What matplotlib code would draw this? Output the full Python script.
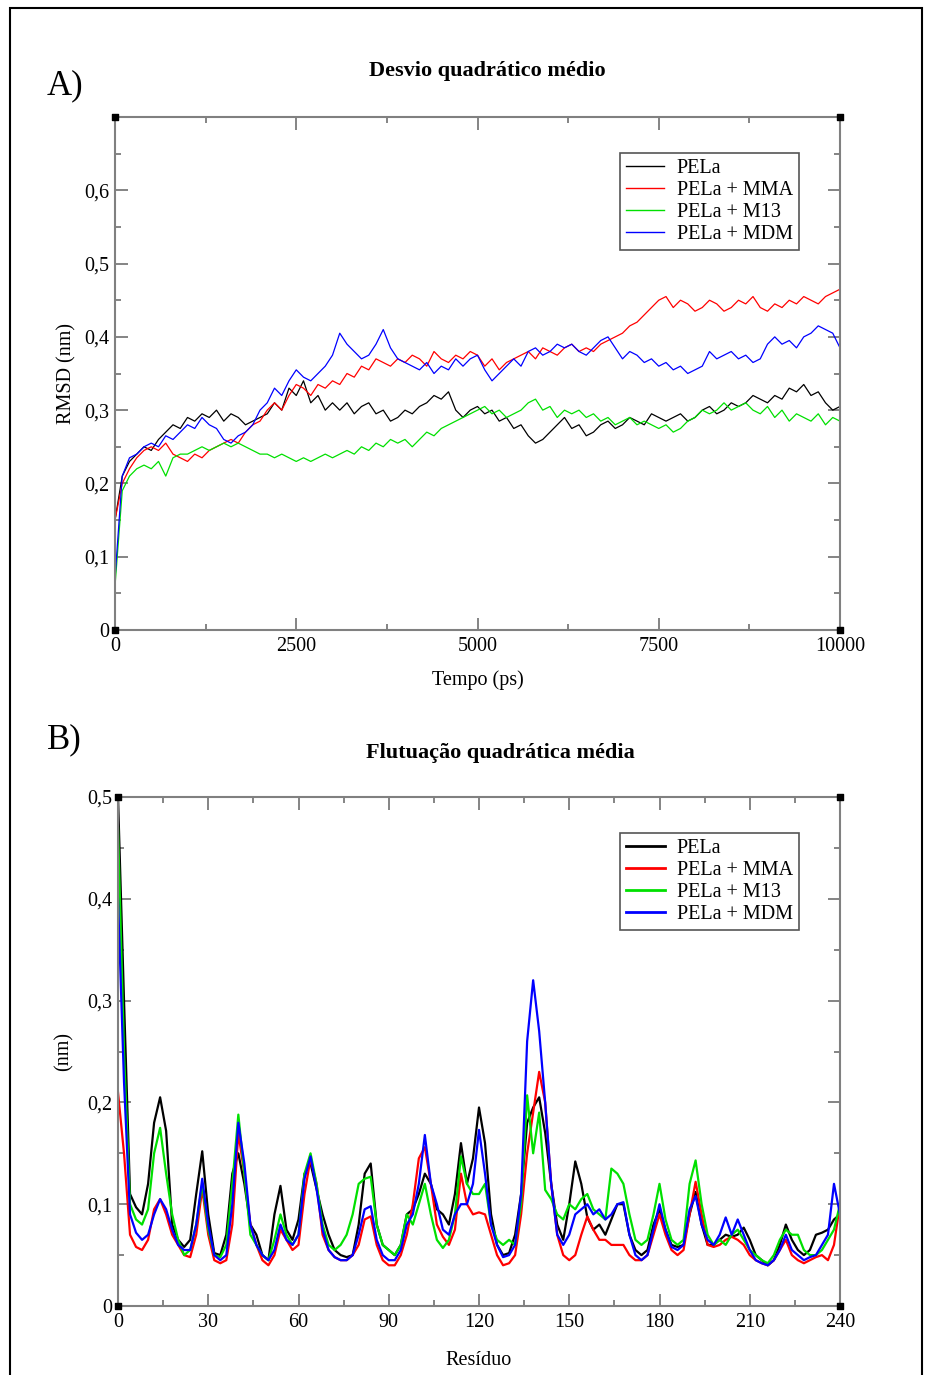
import matplotlib.pyplot as plt
import numpy as np
from matplotlib.patches import Rectangle
from matplotlib.ticker import MultipleLocator, FuncFormatter

plt.rcParams['font.family'] = ['Liberation Serif', 'DejaVu Serif']

# ---------------------------------------------------------------------------
# Data read off the reference
# Panel A: RMSD (nm) vs time (ps), sampled every 100 ps
time_ps = list(range(0, 10001, 100))

rmsd_pela = [
    0.15, 0.21, 0.23, 0.24, 0.25, 0.245, 0.26, 0.27, 0.28, 0.275,
    0.29, 0.285, 0.295, 0.29, 0.30, 0.285, 0.295, 0.29, 0.28, 0.285,
    0.29, 0.295, 0.31, 0.30, 0.33, 0.32, 0.34, 0.31, 0.32, 0.30,
    0.31, 0.30, 0.31, 0.295, 0.305, 0.31, 0.295, 0.30, 0.285, 0.29,
    0.30, 0.295, 0.305, 0.31, 0.32, 0.315, 0.325, 0.30, 0.29, 0.30,
    0.305, 0.295, 0.30, 0.285, 0.29, 0.275, 0.28, 0.265, 0.255, 0.26,
    0.27, 0.28, 0.29, 0.275, 0.28, 0.265, 0.27, 0.28, 0.285, 0.275,
    0.28, 0.29, 0.285, 0.28, 0.295, 0.29, 0.285, 0.29, 0.295, 0.285,
    0.29, 0.30, 0.305, 0.295, 0.30, 0.31, 0.305, 0.31, 0.32, 0.315,
    0.31, 0.32, 0.315, 0.33, 0.325, 0.335, 0.32, 0.325, 0.31, 0.30,
    0.305,
]
rmsd_mma = [
    0.15, 0.20, 0.22, 0.235, 0.245, 0.25, 0.245, 0.255, 0.24, 0.235,
    0.23, 0.24, 0.235, 0.245, 0.25, 0.255, 0.26, 0.255, 0.27, 0.28,
    0.285, 0.30, 0.31, 0.30, 0.32, 0.335, 0.33, 0.32, 0.335, 0.33,
    0.34, 0.335, 0.35, 0.345, 0.36, 0.355, 0.37, 0.365, 0.36, 0.37,
    0.365, 0.375, 0.37, 0.36, 0.38, 0.37, 0.365, 0.375, 0.37, 0.38,
    0.375, 0.36, 0.37, 0.355, 0.365, 0.37, 0.375, 0.38, 0.37, 0.385,
    0.38, 0.375, 0.385, 0.39, 0.38, 0.385, 0.38, 0.39, 0.395, 0.40,
    0.405, 0.415, 0.42, 0.43, 0.44, 0.45, 0.455, 0.44, 0.45, 0.445,
    0.435, 0.44, 0.45, 0.445, 0.435, 0.44, 0.45, 0.445, 0.455, 0.44,
    0.435, 0.445, 0.44, 0.45, 0.445, 0.455, 0.45, 0.445, 0.455, 0.46,
    0.465,
]
rmsd_m13 = [
    0.06, 0.19, 0.21, 0.22, 0.225, 0.22, 0.23, 0.21, 0.235, 0.24,
    0.24, 0.245, 0.25, 0.245, 0.25, 0.255, 0.25, 0.255, 0.25, 0.245,
    0.24, 0.24, 0.235, 0.24, 0.235, 0.23, 0.235, 0.23, 0.235, 0.24,
    0.235, 0.24, 0.245, 0.24, 0.25, 0.245, 0.255, 0.25, 0.26, 0.255,
    0.26, 0.25, 0.26, 0.27, 0.265, 0.275, 0.28, 0.285, 0.29, 0.295,
    0.30, 0.305, 0.295, 0.30, 0.29, 0.295, 0.30, 0.31, 0.315, 0.30,
    0.305, 0.29, 0.30, 0.295, 0.30, 0.29, 0.295, 0.285, 0.29, 0.28,
    0.285, 0.29, 0.28, 0.285, 0.28, 0.275, 0.28, 0.27, 0.275, 0.285,
    0.29, 0.30, 0.295, 0.30, 0.31, 0.30, 0.305, 0.31, 0.30, 0.295,
    0.305, 0.29, 0.30, 0.285, 0.295, 0.29, 0.285, 0.295, 0.28, 0.29,
    0.285,
]
rmsd_mdm = [
    0.07, 0.21, 0.235, 0.24, 0.25, 0.255, 0.25, 0.265, 0.26, 0.27,
    0.28, 0.275, 0.29, 0.28, 0.275, 0.26, 0.255, 0.265, 0.27, 0.28,
    0.30, 0.31, 0.33, 0.32, 0.34, 0.355, 0.345, 0.34, 0.35, 0.36,
    0.375, 0.405, 0.39, 0.38, 0.37, 0.375, 0.39, 0.41, 0.385, 0.37,
    0.365, 0.36, 0.355, 0.365, 0.35, 0.36, 0.355, 0.37, 0.36, 0.37,
    0.375, 0.355, 0.34, 0.35, 0.36, 0.37, 0.36, 0.38, 0.385, 0.375,
    0.38, 0.39, 0.385, 0.39, 0.38, 0.375, 0.385, 0.395, 0.40, 0.385,
    0.37, 0.38, 0.375, 0.365, 0.37, 0.36, 0.365, 0.355, 0.36, 0.35,
    0.355, 0.36, 0.38, 0.37, 0.375, 0.38, 0.37, 0.375, 0.365, 0.37,
    0.39, 0.40, 0.39, 0.395, 0.385, 0.40, 0.405, 0.415, 0.41, 0.405,
    0.385,
]

# Panel B: RMSF (nm) per residue, sampled every 2 residues
residue = list(range(0, 241, 2))

rmsf_pela = [
    0.50, 0.30, 0.11, 0.097, 0.09, 0.12, 0.18, 0.205, 0.172, 0.08,
    0.065, 0.058, 0.065, 0.11, 0.152, 0.09, 0.052, 0.05, 0.07, 0.13,
    0.15, 0.12, 0.08, 0.07, 0.05, 0.045, 0.09, 0.118, 0.075, 0.065,
    0.085, 0.13, 0.14, 0.115, 0.09, 0.07, 0.055, 0.05, 0.048, 0.05,
    0.08, 0.13, 0.14, 0.08, 0.06, 0.055, 0.05, 0.06, 0.09, 0.095,
    0.11, 0.13, 0.12, 0.095, 0.09, 0.08, 0.11, 0.16, 0.12, 0.145,
    0.195, 0.16, 0.09, 0.06, 0.05, 0.052, 0.07, 0.11, 0.18, 0.195,
    0.205, 0.17, 0.12, 0.08, 0.065, 0.10, 0.142, 0.12, 0.087, 0.075,
    0.08, 0.07, 0.085, 0.10, 0.10, 0.07, 0.055, 0.05, 0.055, 0.08,
    0.095, 0.075, 0.06, 0.058, 0.06, 0.09, 0.112, 0.08, 0.06, 0.06,
    0.065, 0.07, 0.068, 0.07, 0.077, 0.065, 0.05, 0.045, 0.04, 0.045,
    0.06, 0.08, 0.065, 0.055, 0.05, 0.055, 0.07, 0.072, 0.075, 0.085,
    0.09,
]
rmsf_mma = [
    0.21, 0.15, 0.07, 0.058, 0.055, 0.065, 0.095, 0.105, 0.09, 0.07,
    0.06, 0.05, 0.048, 0.07, 0.115, 0.07, 0.045, 0.042, 0.045, 0.08,
    0.17, 0.13, 0.08, 0.06, 0.045, 0.04, 0.05, 0.075, 0.065, 0.055,
    0.06, 0.11, 0.145, 0.12, 0.07, 0.055, 0.048, 0.045, 0.045, 0.05,
    0.06, 0.085, 0.088, 0.06, 0.045, 0.04, 0.04, 0.05, 0.07, 0.10,
    0.145, 0.156, 0.12, 0.08, 0.068, 0.06, 0.075, 0.13, 0.10, 0.09,
    0.092, 0.09, 0.07, 0.05, 0.04, 0.042, 0.05, 0.09, 0.15, 0.19,
    0.23, 0.20, 0.12, 0.07, 0.05, 0.045, 0.05, 0.07, 0.088, 0.075,
    0.065, 0.065, 0.06, 0.06, 0.06, 0.05, 0.045, 0.045, 0.05, 0.07,
    0.09, 0.07, 0.055, 0.05, 0.055, 0.09, 0.122, 0.09, 0.06, 0.058,
    0.06, 0.065, 0.068, 0.065, 0.06, 0.05, 0.045, 0.042, 0.04, 0.045,
    0.055, 0.065, 0.05, 0.045, 0.042, 0.045, 0.048, 0.05, 0.045, 0.06,
    0.10,
]
rmsf_m13 = [
    0.47, 0.25, 0.10, 0.085, 0.08, 0.095, 0.15, 0.175, 0.13, 0.09,
    0.065, 0.05, 0.055, 0.08, 0.12, 0.075, 0.05, 0.048, 0.06, 0.12,
    0.188, 0.13, 0.07, 0.06, 0.05, 0.045, 0.065, 0.09, 0.07, 0.06,
    0.07, 0.13, 0.15, 0.12, 0.08, 0.06, 0.055, 0.06, 0.07, 0.09,
    0.12, 0.125, 0.127, 0.08, 0.06, 0.055, 0.05, 0.06, 0.09, 0.08,
    0.10, 0.12, 0.09, 0.065, 0.057, 0.065, 0.09, 0.147, 0.12, 0.11,
    0.11, 0.12, 0.08, 0.065, 0.06, 0.065, 0.06, 0.10, 0.207, 0.15,
    0.19, 0.114, 0.105, 0.09, 0.085, 0.10, 0.095, 0.105, 0.11, 0.095,
    0.09, 0.085, 0.135, 0.13, 0.12, 0.09, 0.065, 0.06, 0.065, 0.09,
    0.12, 0.085, 0.065, 0.06, 0.065, 0.12, 0.143, 0.10, 0.07, 0.06,
    0.065, 0.06, 0.07, 0.075, 0.065, 0.055, 0.05, 0.045, 0.042, 0.05,
    0.065, 0.075, 0.07, 0.07, 0.055, 0.05, 0.05, 0.055, 0.065, 0.075,
    0.10,
]
rmsf_mdm = [
    0.40, 0.22, 0.09, 0.072, 0.065, 0.07, 0.09, 0.105, 0.095, 0.075,
    0.06, 0.055, 0.055, 0.08, 0.125, 0.08, 0.05, 0.045, 0.05, 0.10,
    0.18, 0.14, 0.08, 0.06, 0.05, 0.045, 0.055, 0.08, 0.065, 0.06,
    0.07, 0.125, 0.147, 0.115, 0.075, 0.055, 0.048, 0.045, 0.045, 0.05,
    0.07, 0.095, 0.098, 0.065, 0.05, 0.045, 0.045, 0.055, 0.08, 0.09,
    0.12, 0.168, 0.12, 0.10, 0.075, 0.07, 0.09, 0.10, 0.10, 0.12,
    0.173, 0.13, 0.08, 0.06, 0.048, 0.05, 0.06, 0.11, 0.26, 0.32,
    0.27, 0.20, 0.12, 0.07, 0.06, 0.07, 0.09, 0.095, 0.10, 0.09,
    0.095, 0.085, 0.09, 0.10, 0.102, 0.07, 0.05, 0.045, 0.05, 0.075,
    0.10, 0.075, 0.058, 0.055, 0.06, 0.095, 0.108, 0.08, 0.065, 0.06,
    0.07, 0.087, 0.07, 0.085, 0.07, 0.055, 0.045, 0.042, 0.04, 0.045,
    0.055, 0.07, 0.055, 0.05, 0.045, 0.048, 0.05, 0.06, 0.07, 0.12,
    0.09,
]

labels = ['PELa', 'PELa + MMA', 'PELa + M13', 'PELa + MDM']
colors = ['black', '#ff0000', '#00e000', '#0000ff']

# ---------------------------------------------------------------------------
W, H = 925, 1375
fig = plt.figure(figsize=(W / 100, H / 100), dpi=100, facecolor='white')

# outer frame
fig.add_artist(Rectangle((10 / W, -0.01), (922 - 10) / W, 1.01 - 8 / H,
                         transform=fig.transFigure, fill=False,
                         edgecolor='black', linewidth=1.5))


def comma(v, pos):
    if abs(v) < 1e-9:
        return '0'
    return ('%g' % round(v, 3)).replace('.', ',')


def style_axes(ax, xmaj, xmin, ymaj, ymin):
    for s in ax.spines.values():
        s.set_color('#808080')
        s.set_linewidth(1.5)
    ax.xaxis.set_major_locator(MultipleLocator(xmaj))
    ax.xaxis.set_minor_locator(MultipleLocator(xmin))
    ax.yaxis.set_major_locator(MultipleLocator(ymaj))
    ax.yaxis.set_minor_locator(MultipleLocator(ymin))
    ax.yaxis.set_major_formatter(FuncFormatter(comma))
    ax.tick_params(which='both', direction='in', top=True, right=True,
                   color='#707070', labelsize=14.5, width=1.2)
    ax.tick_params(which='major', length=9)
    ax.tick_params(which='minor', length=4.5)
    ax.tick_params(axis='y', pad=4)
    ax.tick_params(axis='x', pad=5)
    # little black squares on the corners, like xmgrace draws them
    ax.scatter([0, 1, 0, 1], [0, 0, 1, 1], marker='s', s=22, color='black',
               transform=ax.transAxes, clip_on=False, zorder=5)


def add_legend(ax, lw):
    leg = ax.legend(loc='upper right', bbox_to_anchor=(0.943, 0.93),
                    borderaxespad=0, fancybox=False, framealpha=1,
                    edgecolor='#555555', fontsize=14.5, handlelength=1.9,
                    labelspacing=0.15, borderpad=0.3, handletextpad=0.6)
    leg.get_frame().set_linewidth(1.2)
    for line in leg.get_lines():
        line.set_linewidth(lw)


# ---------------------------------------------------------------------------
# A) RMSD
axA = fig.add_axes([115 / W, 1 - 630 / H, 725 / W, 513 / H])
for y, c, lab in zip([rmsd_pela, rmsd_mma, rmsd_m13, rmsd_mdm], colors, labels):
    axA.plot(time_ps, y, color=c, linewidth=0.9, label=lab)
axA.set_xlim(0, 10000)
axA.set_ylim(0, 0.7)
style_axes(axA, 2500, 1250, 0.1, 0.05)
axA.set_yticks([0, 0.1, 0.2, 0.3, 0.4, 0.5, 0.6])
axA.set_xlabel('Tempo (ps)', fontsize=14.5, labelpad=10)
axA.set_ylabel('RMSD (nm)', fontsize=14.5, labelpad=6)
add_legend(axA, 1.0)

fig.text(487 / W, 1 - 71 / H, 'Desvio quadrático médio', ha='center',
         va='center', fontsize=16, fontweight='bold')
fig.text(47 / W, 1 - 86 / H, 'A)', ha='left', va='center', fontsize=25)

# B) RMSF
axB = fig.add_axes([118 / W, 1 - 1306 / H, 722 / W, 509 / H])
for y, c, lab in zip([rmsf_pela, rmsf_mma, rmsf_m13, rmsf_mdm], colors, labels):
    axB.plot(residue, y, color=c, linewidth=1.6, label=lab)
axB.set_xlim(0, 240)
axB.set_ylim(0, 0.5)
style_axes(axB, 30, 15, 0.1, 0.05)
axB.set_xlabel('Resíduo', fontsize=14.5, labelpad=14)
axB.set_ylabel('(nm)', fontsize=14.5, labelpad=10)
add_legend(axB, 2.0)

fig.text(500 / W, 1 - 753 / H, 'Flutuação quadrática média', ha='center',
         va='center', fontsize=16, fontweight='bold')
fig.text(47 / W, 1 - 740 / H, 'B)', ha='left', va='center', fontsize=25)

fig.savefig('out.png', dpi=100, facecolor='white')
